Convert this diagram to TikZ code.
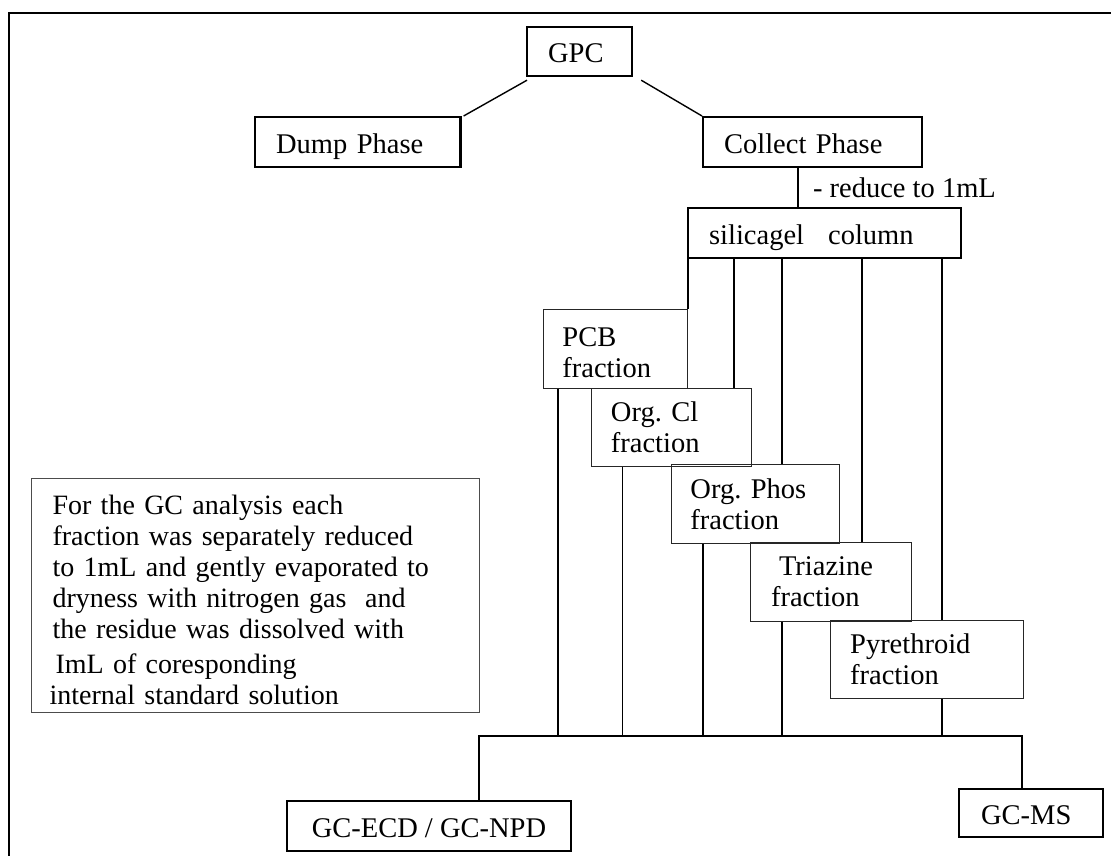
\documentclass[tikz,border=0pt]{standalone}
\usepackage{fontspec}
\setmainfont{Liberation Serif}
\usetikzlibrary{calc,positioning}

\begin{document}
\begin{tikzpicture}[
        x = 1pt, y = -1pt, % griglia in pixel, y verso il basso
        every node/.style = {font=\fontsize{28.5}{31}\selectfont},
        stage/.style = {draw, line width=2.2pt, anchor=north west, align=left,
                        inner ysep=0pt, minimum height=50pt,
                        text height=22pt, text depth=0pt},
        frac/.style = {draw=black!85, line width=0.9pt, anchor=north west,
                       align=left, inner ysep=0pt},
        link/.style = {line width=1.4pt},
        bus/.style = {line width=2pt}
    ]

    \useasboundingbox (0,0) rectangle (1111,856);
    \draw[line width=2pt] (9,856) -- (9,13) -- (1111,13); % cornice

    % GPC e fasi
    \node[stage, inner xsep=21pt, text width=63pt, minimum height=49pt] (gpc) at (526,26) {GPC};
    \node[stage, inner xsep=21.4pt, text width=163pt] (dump) at (253.6,116) {Dump Phase};
    \node[stage, inner xsep=21pt, text width=176.5pt] (collect) at (702,116) {Collect Phase};
    \draw[link] ($(gpc.south west)+(1,3)$) -- ($(dump.north east)+(2,0)$);
    \draw[link] ($(gpc.south east)+(8,3)$) -- (collect.north west);

    % colonna
    \node[stage, inner xsep=21.3pt, text width=230.7pt] (silica) at (686.7,207) {silicagel\hspace{24pt}column};
    \draw[link] (798,0 |- collect.south) -- (798,0 |- silica.north)
        node[midway, right=11pt] {- reduce to 1mL};

    % frazioni
    \node[frac, inner xsep=19.4pt, text width=105.6pt, minimum height=79pt] (pcb) at (542.6,309) {\rule{0pt}{27pt}PCB\\fraction};
    \node[frac, inner xsep=20pt, text width=120.5pt, minimum height=78pt] (orgcl) at (590.5,388) {Org.\ Cl\\fraction};
    \node[frac, inner xsep=19pt, text width=129.5pt, minimum height=79pt] (orgphos) at (671,464) {Org.\ Phos\\fraction};
    \node[frac, inner xsep=20.6pt, text width=119.8pt, minimum height=79pt] (triaz) at (750,542) {\hspace*{8pt}Triazine\\fraction};
    \node[frac, inner xsep=19.7pt, text width=153.6pt, minimum height=78pt] (pyr) at (830,620) {Pyrethroid\\fraction};

    \draw[link] (pcb.north east |- silica.south) -- (pcb.north east);
    \foreach \x/\n in {734/orgcl, 782/orgphos, 862/triaz, 942/pyr}
        \draw[link] (\x,0 |- silica.south) -- (\x,0 |- \n.north);

    % rivelatori
    \node[stage, minimum width=284.3pt, inner xsep=0pt] (gcecd) at (285.7,800) {GC-ECD / GC-NPD};
    \node[stage, inner xsep=22pt, text width=100pt, minimum height=48pt] (gcms) at (958,788) {GC-MS};

    \coordinate (busL) at (479,736);
    \coordinate (busR) at (1022,736);
    \foreach \x/\n in {558/pcb, 622.5/orgcl, 703/orgphos, 782/triaz, 942/pyr}
        \draw[link] (\x,0 |- \n.south) -- (\x,0 |- busL);
    \draw[bus] (busL |- gcecd.north) -- (busL) -- (busR) -- (busR |- gcms.north);

    % nota
    \node[frac, draw=black!70, line width=1pt, inner xsep=21pt, text width=406pt, minimum height=234pt,
          font=\fontsize{28}{31}\selectfont] (note) at (31,478)
        {\rule{0pt}{28pt}For the GC analysis each\\
         fraction was separately reduced\\
         to 1mL and gently evaporated to\\
         dryness with nitrogen gas\ \ and\\
         the residue was dissolved with\\[4pt]
         \hspace*{3pt}ImL of coresponding\\
         \hspace*{-3pt}internal standard solution};

\end{tikzpicture}
\end{document}
